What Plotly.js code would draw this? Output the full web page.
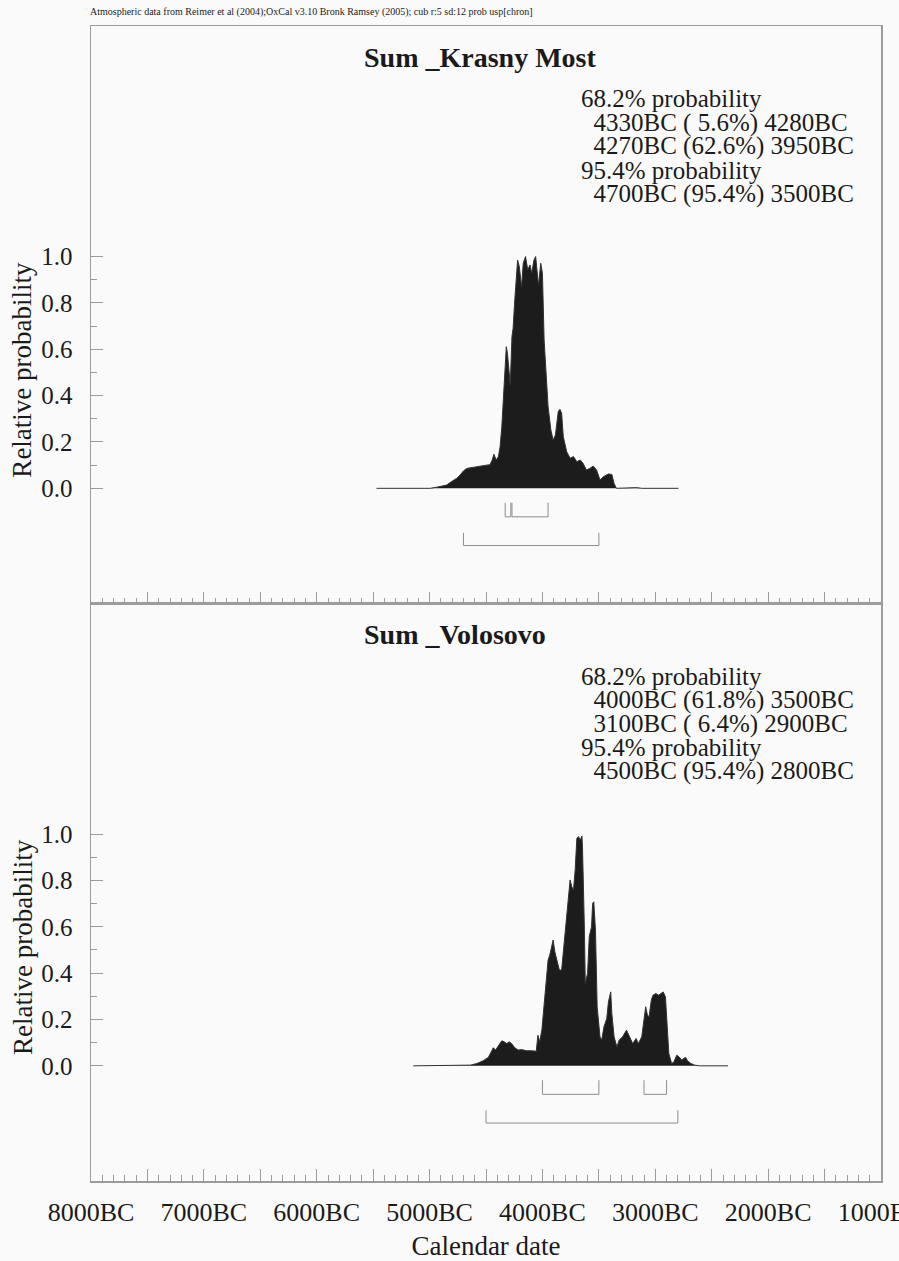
<!DOCTYPE html>
<html>
<head>
<meta charset="utf-8">
<script src="https://cdn.plot.ly/plotly-3.0.1.min.js"></script>
<style>html,body{margin:0;padding:0;background:#fafafa;}#chart{width:899px;height:1261px;}</style>
</head>
<body>
<div id="chart"></div>
<script>
// ---- Data (years: negative = BC) ----
const yearsKM = [-5470,-4995,-4935,-4850,-4805,-4760,-4730,-4700,-4670,-4640,-4595,-4555,-4510,-4465,-4445,-4430,-4410,-4390,-4375,-4360,-4340,-4320,-4310,-4285,-4270,-4260,-4245,-4220,-4205,-4185,-4170,-4150,-4130,-4110,-4095,-4075,-4060,-4035,-4015,-4000,-3985,-3970,-3950,-3925,-3905,-3885,-3860,-3845,-3830,-3815,-3785,-3755,-3725,-3695,-3665,-3640,-3610,-3580,-3550,-3520,-3490,-3460,-3415,-3385,-3365,-3345,-3165,-3120,-2795];
const probKM  = [0,0,0.005,0.014,0.029,0.043,0.057,0.075,0.086,0.089,0.093,0.096,0.099,0.102,0.122,0.147,0.122,0.137,0.18,0.266,0.453,0.611,0.583,0.446,0.655,0.69,0.813,0.985,0.957,0.87,0.971,1.0,0.943,0.964,0.928,0.985,1.0,0.876,0.971,0.928,0.64,0.525,0.353,0.252,0.208,0.23,0.331,0.341,0.324,0.223,0.158,0.13,0.137,0.115,0.122,0.108,0.079,0.086,0.096,0.079,0.036,0.05,0.062,0.06,0.021,0,0.003,0,0];

const yearsVol = [-5145,-4685,-4640,-4580,-4525,-4480,-4450,-4435,-4415,-4390,-4360,-4340,-4315,-4295,-4270,-4245,-4215,-4185,-4140,-4095,-4055,-4040,-4025,-4005,-3985,-3960,-3950,-3935,-3920,-3905,-3890,-3870,-3850,-3830,-3815,-3795,-3770,-3755,-3740,-3725,-3710,-3695,-3680,-3665,-3650,-3645,-3630,-3620,-3600,-3585,-3565,-3555,-3545,-3530,-3515,-3490,-3475,-3455,-3430,-3415,-3395,-3385,-3365,-3340,-3320,-3290,-3255,-3230,-3200,-3170,-3150,-3120,-3100,-3085,-3070,-3055,-3035,-3020,-2995,-2970,-2950,-2930,-2910,-2900,-2880,-2855,-2835,-2810,-2790,-2765,-2750,-2730,-2715,-2685,-2650,-2605,-2355];
const probVol  = [0,0,0.003,0.01,0.022,0.036,0.068,0.078,0.068,0.085,0.108,0.104,0.096,0.104,0.094,0.078,0.068,0.07,0.065,0.065,0.063,0.132,0.104,0.154,0.255,0.399,0.456,0.478,0.507,0.543,0.492,0.449,0.413,0.413,0.485,0.6,0.73,0.802,0.773,0.758,0.845,0.982,0.989,0.974,0.992,0.946,0.629,0.355,0.399,0.557,0.6,0.701,0.708,0.586,0.255,0.125,0.111,0.168,0.204,0.276,0.319,0.226,0.125,0.082,0.111,0.125,0.154,0.125,0.096,0.118,0.096,0.125,0.197,0.255,0.219,0.212,0.284,0.305,0.312,0.305,0.312,0.319,0.298,0.197,0.053,0.01,0.017,0.046,0.039,0.024,0.032,0.036,0.022,0.01,0.003,0,0];

// 68.2% and 95.4% ranges [from, to]
const range68KM  = [[-4330,-4280],[-4270,-3950]];
const range95KM  = [[-4700,-3500]];
const range68Vol = [[-4000,-3500],[-3100,-2900]];
const range95Vol = [[-4500,-2800]];

const titleKM  = "Sum _Krasny Most";
const titleVol = "Sum _Volosovo";
const textKM  = ["68.2% probability","  4330BC ( 5.6%) 4280BC","  4270BC (62.6%) 3950BC","95.4% probability","  4700BC (95.4%) 3500BC"];
const textVol = ["68.2% probability","  4000BC (61.8%) 3500BC","  3100BC ( 6.4%) 2900BC","95.4% probability","  4500BC (95.4%) 2800BC"];

const yTickVals = [0,0.2,0.4,0.6,0.8,1.0];
const yTickText = ["0.0","0.2","0.4","0.6","0.8","1.0"];
const yMinorVals = [0.1,0.3,0.5,0.7,0.9];
const yTitle = "Relative probability";
const xTitle = "Calendar date";
const headerText = "Atmospheric data from Reimer et al (2004);OxCal v3.10 Bronk Ramsey (2005); cub r:5 sd:12 prob usp[chron]";

// ---- Build ----
const FONT = "Liberation Serif, Times New Roman, serif";
const FRAME = "#9c9c9c";
const INK = "#1a1a1a";
const xTickVals = [], xTickTextTop = [], xTickTextBot = [];
for (let y = -8000; y <= -1000; y += 500) {
  xTickVals.push(y);
  xTickTextTop.push("");
  xTickTextBot.push(y % 1000 === 0 ? (-y) + "BC" : "");
}

function bracketTraces(ranges, top, bot, xa, ya) {
  return ranges.map(r => ({
    x: [r[0], r[0], r[1], r[1]], y: [top, bot, bot, top],
    xaxis: xa, yaxis: ya, mode: "lines", type: "scatter",
    line: {color: "#8c8c8c", width: 1}, hoverinfo: "skip", showlegend: false
  }));
}

const traces = [
  {x: yearsKM, y: probKM, xaxis: "x", yaxis: "y", type: "scatter", mode: "lines",
   fill: "tozeroy", fillcolor: "#1c1c1c", line: {color: "#333", width: 1}, showlegend: false},
  {x: yearsVol, y: probVol, xaxis: "x2", yaxis: "y2", type: "scatter", mode: "lines",
   fill: "tozeroy", fillcolor: "#1c1c1c", line: {color: "#333", width: 1}, showlegend: false},
  ...bracketTraces(range68KM, -0.062, -0.123, "x", "y"),
  ...bracketTraces(range95KM, -0.192, -0.247, "x", "y"),
  ...bracketTraces(range68Vol, -0.062, -0.123, "x2", "y2"),
  ...bracketTraces(range95Vol, -0.192, -0.247, "x2", "y2"),
];

const L = 90.7, R = 881, T = 25.7, B = 1180.7;
function P(px, py) { return {x: (px - L) / (R - L), y: (B - py) / (B - T)}; }

const annotations = [];
function addText(txt, px, py, size, opts) {
  opts = opts || {};
  const p = P(px, py);
  annotations.push({xref: "paper", yref: "paper", x: p.x, y: p.y,
    xanchor: opts.xanchor || "left", yanchor: "middle", textangle: opts.angle || 0,
    text: opts.bold ? "<b>" + txt + "</b>" : txt.replace(/ /g, "&nbsp;"), showarrow: false,
    font: {family: FONT, size: size, color: INK}});
}
addText(headerText, 88, 12, 10);
const panelShift = 577.4;
[[titleKM, textKM, 0], [titleVol, textVol, panelShift]].forEach(([t, lines, dy]) => {
  addText(t, 362, 57 + dy, 28, {bold: true});
  lines.forEach((ln, i) => addText(ln, 579, 98.5 + i * 23.8 + dy, 25));
  addText(yTitle, 22, 369 + dy, 27, {angle: -90, xanchor: "center"});
});

function xAxis(texts, anchor, withTitle) {
  const ax = {range: [-8000, -1000], anchor: anchor, showgrid: false, zeroline: false,
    showline: true, linecolor: FRAME, linewidth: 1.5, mirror: true,
    ticks: "inside", ticklen: 12, tickwidth: 1, tickcolor: FRAME,
    tickmode: "array", tickvals: xTickVals, ticktext: texts, ticklabeloverflow: "allow",
    minor: {tick0: -8000, dtick: 100, ticks: "inside", ticklen: 6, tickwidth: 1, tickcolor: FRAME},
    tickfont: {family: FONT, size: 26, color: INK}, ticklabelstandoff: 7, fixedrange: true};
  if (withTitle) ax.title = {text: xTitle, font: {family: FONT, size: 27, color: INK}, standoff: 16};
  return ax;
}
function yAxis(domain, anchor) {
  return {domain: domain, anchor: anchor, range: [-0.497, 1.995], showgrid: false, zeroline: false,
    showline: true, linecolor: FRAME, linewidth: 1.5, mirror: true,
    ticks: "inside", ticklen: 12, tickwidth: 1, tickcolor: FRAME,
    tickmode: "array", tickvals: yTickVals, ticktext: yTickText,
    minor: {tickmode: "array", tickvals: yMinorVals, ticks: "inside", ticklen: 6, tickwidth: 1, tickcolor: FRAME},
    tickfont: {family: FONT, size: 25, color: INK}, ticklabelstandoff: 12,
    fixedrange: true};
}

const layout = {
  width: 899, height: 1261,
  margin: {l: L, r: 899 - R, t: T, b: 1261 - B, pad: 0},
  paper_bgcolor: "#fafafa", plot_bgcolor: "#fafafa",
  showlegend: false,
  xaxis: xAxis(xTickTextTop, "y", false),
  yaxis: yAxis([0.5, 1], "x"),
  xaxis2: xAxis(xTickTextBot, "y2", true),
  yaxis2: yAxis([0, 0.5], "x2"),
  annotations: annotations
};

Plotly.newPlot("chart", traces, layout, {displayModeBar: false, staticPlot: true});
</script>
</body>
</html>
